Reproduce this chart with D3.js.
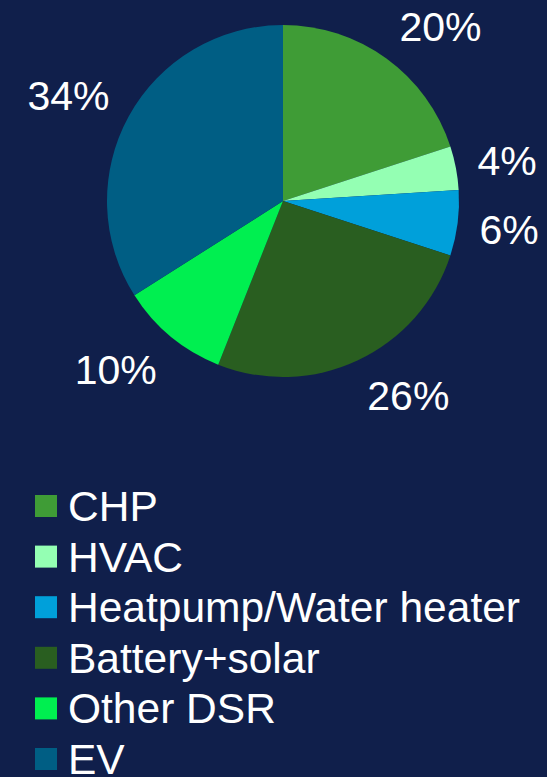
<!DOCTYPE html>
<html>
<head>
<meta charset="utf-8">
<script src="https://cdn.jsdelivr.net/npm/d3@7"></script>
<style>
  html, body { margin: 0; padding: 0; background: #101f4b; }
  svg { display: block; }
</style>
</head>
<body>
<svg class="chart" width="547" height="777"></svg>
<script>
var categories = ["CHP", "HVAC", "Heatpump/Water heater", "Battery+solar", "Other DSR", "EV"];
var values = [20, 4, 6, 26, 10, 34];
var labels = ["20%", "4%", "6%", "26%", "10%", "34%"];
var colors = ["#3f9c36", "#94ffb3", "#00a0da", "#295e20", "#00ef50", "#005e84"];

var width = 547, height = 777;
var cx = 283, cy = 201, radius = 176;
var labelRadius = 198;

var svg = d3.select('.chart');

var pie = d3.pie().sort(null).value(function(d) { return d; });
var arcs = pie(values);
var arc = d3.arc().innerRadius(0).outerRadius(radius);

var main = svg.append('g')
    .attr('transform', 'translate(' + cx + ',' + cy + ')');

main.selectAll('path')
    .data(arcs)
    .enter().append('path')
    .attr('d', arc)
    .style('fill', function(d, i) { return colors[i]; });

// outside-end labels, box pushed away from the pie edge
var clamp = function(v) { return Math.max(-1, Math.min(1, v)); };
main.selectAll('text.lbl')
    .data(arcs)
    .enter().append('text')
    .attr('class', 'lbl')
    .style('font-family', '"Liberation Sans", Arial, sans-serif')
    .style('font-size', '41px')
    .style('fill', '#ffffff')
    .attr('text-anchor', 'middle')
    .text(function(d, i) { return labels[i]; })
    .each(function(d) {
        var a = (d.startAngle + d.endAngle) / 2;
        var ux = Math.sin(a), uy = -Math.cos(a);
        var w = this.getComputedTextLength(), h = 30;
        var x = labelRadius * ux + clamp(ux * 3) * w / 2;
        var y = labelRadius * uy + clamp(uy * 1.5) * h / 2;
        d3.select(this).attr('x', x).attr('y', y + 15);
    });

// legend
var legend = svg.append('g')
    .attr('transform', 'translate(35,495)');

var row = legend.selectAll('g')
    .data(categories)
    .enter().append('g')
    .attr('transform', function(d, i) { return 'translate(0,' + (i * 50.6) + ')'; });

row.append('rect')
    .attr('width', 22)
    .attr('height', 22)
    .style('fill', function(d, i) { return colors[i]; });

row.append('text')
    .attr('x', 33)
    .attr('y', 26)
    .style('font-family', '"Liberation Sans", Arial, sans-serif')
    .style('font-size', '42.5px')
    .style('fill', '#ffffff')
    .text(function(d) { return d; });
</script>
</body>
</html>
